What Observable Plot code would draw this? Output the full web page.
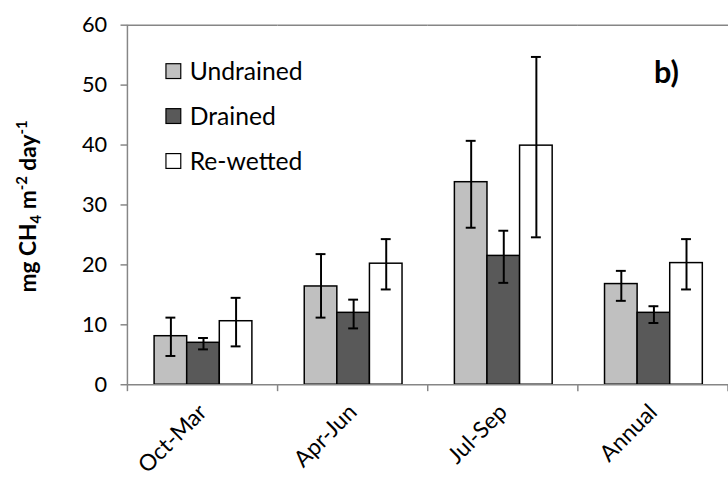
<!DOCTYPE html>
<html><head><meta charset="utf-8">
<script src="https://cdn.jsdelivr.net/npm/d3@7"></script>
<script src="https://cdn.jsdelivr.net/npm/@observablehq/plot@0.6"></script>
<style>html,body{margin:0;padding:0;overflow:hidden;background:#fff;width:728px;height:479px}</style>
</head><body><div id="chart"></div>
<script>
const categories = ["Oct-Mar", "Apr-Jun", "Jul-Sep", "Annual"];
const series = ["Undrained", "Drained", "Re-wetted"];
const colors = ["#c0c0c0", "#595959", "#ffffff"];
const undrainedMean = [8.1, 16.4, 33.8, 16.8];
const undrainedLow  = [4.8, 11.2, 26.2, 14.0];
const undrainedHigh = [11.2, 21.8, 40.7, 19.0];
const drainedMean = [7.0, 12.0, 21.5, 12.0];
const drainedLow  = [5.9, 9.4, 17.0, 10.3];
const drainedHigh = [7.8, 14.2, 25.7, 13.1];
const rewettedMean = [10.6, 20.2, 39.9, 20.3];
const rewettedLow  = [6.4, 15.9, 24.6, 15.9];
const rewettedHigh = [14.5, 24.3, 54.7, 24.3];
const yTicks = [0, 10, 20, 30, 40, 50, 60];
const panelLabel = "b)";

const seriesData = [
  [undrainedMean, undrainedLow, undrainedHigh],
  [drainedMean, drainedLow, drainedHigh],
  [rewettedMean, rewettedLow, rewettedHigh]
];
const rows = [];
categories.forEach((cat, i) => {
  series.forEach((s, j) => {
    rows.push({cat, series: s, mean: seriesData[j][0][i], low: seriesData[j][1][i], high: seriesData[j][2][i]});
  });
});

const axisGray = "#868686";
const chart = Plot.plot({
  width: 737, height: 479,
  marginTop: 25, marginBottom: 90, marginLeft: 129, marginRight: 0,
  style: {fontFamily: "Lato", background: "white", overflow: "visible", color: "black"},
  fx: {domain: categories, padding: 0, label: null},
  x: {domain: series, paddingInner: 0, paddingOuter: 0.78, axis: null},
  y: {domain: [0, 60], label: null},
  color: {domain: series, range: colors},
  marks: [
    Plot.ruleY([60], {stroke: axisGray, strokeWidth: 1.5}),
    Plot.barY(rows, {fx: "cat", x: "series", y: "mean", fill: "series", stroke: "black", strokeWidth: 1.5}),
    Plot.ruleY([0], {stroke: axisGray, strokeWidth: 1.5}),
    Plot.ruleX(rows, {fx: "cat", x: "series", y1: "low", y2: "high", stroke: "black", strokeWidth: 2}),
    Plot.tickY(rows, {fx: "cat", x: "series", y: "low", insetLeft: 11.5, insetRight: 11.5, stroke: "black", strokeWidth: 2}),
    Plot.tickY(rows, {fx: "cat", x: "series", y: "high", insetLeft: 11.5, insetRight: 11.5, stroke: "black", strokeWidth: 2}),
    Plot.axisY({ticks: yTicks, tickSize: 7, tickPadding: 14, fontSize: 22, stroke: axisGray, strokeWidth: 1.5, fill: "black", label: null, tickFormat: d => String(d)}),
    Plot.axisFx({anchor: "bottom", tickSize: 0, tickRotate: -45, tickPadding: 24, fontSize: 23, fill: "black", label: null})
  ]
});
document.getElementById("chart").appendChild(chart);

const svg = d3.select(chart);
let fxS = chart.scale("fx"); if (!fxS.apply) fxS = Plot.scale({fx: fxS});
let yS = chart.scale("y"); if (!yS.apply) yS = Plot.scale({y: yS});
const y0 = yS.apply(0), yTop = yS.apply(60);
const bw = fxS.bandwidth;
const bounds = categories.map(c => fxS.apply(c)).concat([fxS.apply(categories[categories.length - 1]) + bw]);
const g = svg.append("g");
g.append("line").attr("x1", bounds[0]).attr("x2", bounds[0]).attr("y1", yTop).attr("y2", y0)
  .attr("stroke", axisGray).attr("stroke-width", 1.5);
bounds.forEach(b => g.append("line").attr("x1", b).attr("x2", b).attr("y1", y0).attr("y2", y0 + 7)
  .attr("stroke", axisGray).attr("stroke-width", 1.5));

// legend
const leg = svg.append("g").attr("font-family", "Lato").attr("font-size", 25).attr("text-anchor", "start");
series.forEach((s, i) => {
  const cy = 72 + i * 45.5;
  leg.append("rect").attr("x", 168).attr("y", cy - 7.5).attr("width", 15).attr("height", 15)
    .attr("fill", colors[i]).attr("stroke", "black").attr("stroke-width", 1.2);
  leg.append("text").attr("x", 192).attr("y", cy).attr("dy", "0.36em").text(s);
});

// panel label
svg.append("text").attr("x", 662).attr("y", 84).attr("text-anchor", "start").attr("font-family", "Lato").attr("font-weight", "bold")
  .attr("font-size", 31).text(panelLabel);

// y label
const yl = svg.append("text").attr("transform", "translate(36,209) rotate(-90)").attr("text-anchor", "middle")
  .attr("font-family", "Lato").attr("font-weight", "bold").attr("font-size", 23);
yl.append("tspan").text("mg CH");
yl.append("tspan").attr("dy", 5).attr("font-size", 15).text("4");
yl.append("tspan").attr("dy", -5).text(" m");
yl.append("tspan").attr("dy", -9).attr("font-size", 15).text("-2");
yl.append("tspan").attr("dy", 9).text(" day");
yl.append("tspan").attr("dy", -9).attr("font-size", 15).text("-1");
</script></body></html>
